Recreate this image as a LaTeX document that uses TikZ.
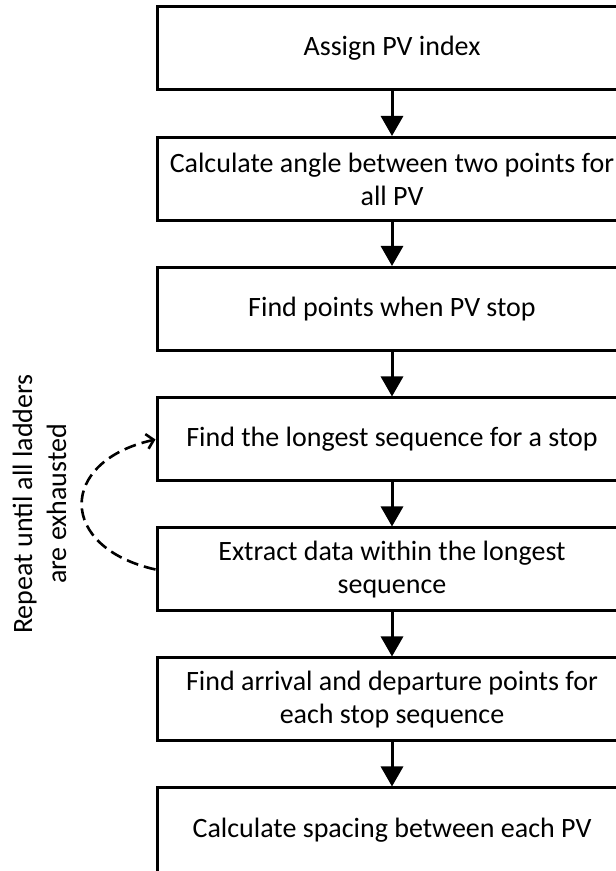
\documentclass[tikz,border=0pt]{standalone}
\usepackage{fontspec}
\setmainfont{Carlito}
\usetikzlibrary{arrows.meta}
\tikzset{
  x=1pt, y=1pt,
  stepbox/.style={draw=black, line width=3pt, fill=white, minimum width=470pt,
    minimum height=83pt, inner sep=0pt, align=center,
    font=\fontsize{28}{33}\selectfont},
  flow/.style={line width=3pt, -{Triangle[length=20pt,width=22pt]}},
  loop/.style={line width=2.6pt, dash pattern=on 12pt off 6pt,
    -{Straight Barb[length=7pt,width=15pt]}},
  note/.style={rotate=90, align=center, font=\fontsize{28}{34}\selectfont}
}
\begin{document}
\begin{tikzpicture}
\useasboundingbox (0,0) rectangle (616,871);
\clip (0,0) rectangle (616,871);
\fill[white] (0,0) rectangle (616,871);

\node[stepbox] (s1) at (392,822.5) {Assign PV index};
\node[stepbox] (s2) at (392,692) {Calculate angle between two points for\\all PV};
\node[stepbox] (s3) at (392,562) {Find points when PV stop};
\node[stepbox] (s4) at (392,431.5) {Find the longest sequence for a stop};
\node[stepbox] (s5) at (392,301.5) {Extract data within the longest\\sequence};
\node[stepbox] (s6) at (392,171.5) {Find arrival and departure points for\\each stop sequence};
\node[stepbox, minimum height=90pt] (s7) at (392,38) {};
\node[font=\fontsize{28}{33}\selectfont] (t7) at (392,41) {Calculate spacing between each PV};

\draw[flow] (s1.south) -- (s2.north);
\draw[flow] (s2.south) -- (s3.north);
\draw[flow] (s3.south) -- (s4.north);
\draw[flow] (s4.south) -- (s5.north);
\draw[flow] (s5.south) -- (s6.north);
\draw[flow] (s6.south) -- (s7.north);

% repeat loop between the two sequence steps
\draw[loop] (s5.west) .. controls +(-98,22) and +(-98,-22) .. (s4.west);
\node[note] (rep) at (39.5,367) {Repeat until all ladders\\are exhausted};
\end{tikzpicture}
\end{document}
